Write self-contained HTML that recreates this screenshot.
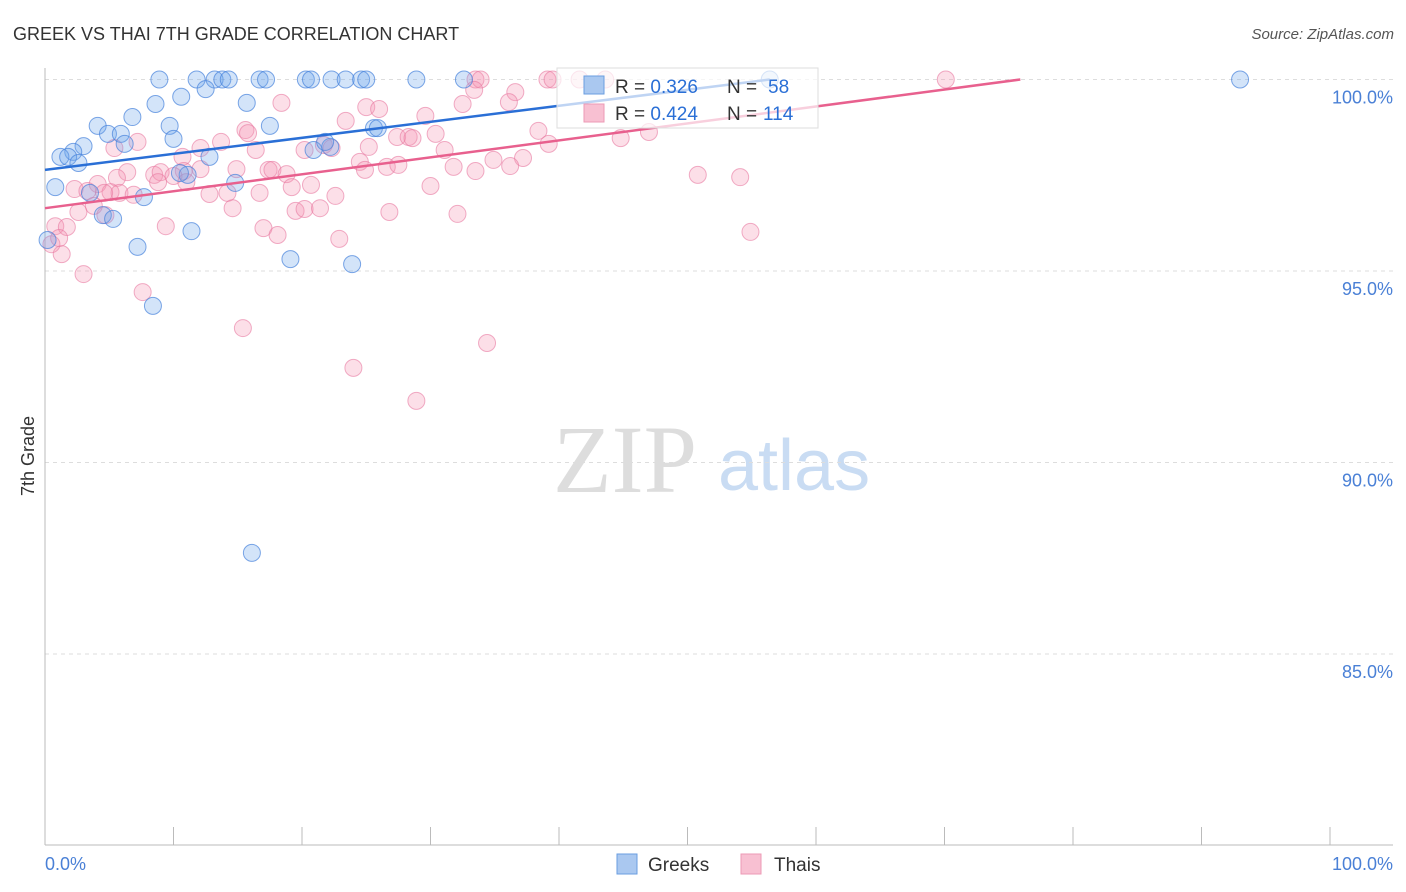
<!DOCTYPE html>
<html><head><meta charset="utf-8"><style>
body{margin:0;background:#fff;font-family:"Liberation Sans",sans-serif}
</style></head><body>
<svg id="chart" width="1406" height="892" xmlns="http://www.w3.org/2000/svg" style="display:block">
<text x="13" y="40" font-size="18" fill="#333">GREEK VS THAI 7TH GRADE CORRELATION CHART</text>
<text x="1394" y="39" font-size="15" fill="#555" text-anchor="end" font-style="italic">Source: ZipAtlas.com</text>
<g>
<text x="553" y="492" font-family="Liberation Serif,serif" font-size="96" fill="#ddd">ZIP</text>
<text x="718" y="490" font-size="72" fill="#c9dcf3">atlas</text>
</g>
<g id="grid"></g><g id="axes"></g><g id="pts"></g><g id="lines"></g>
<text transform="translate(34,456) rotate(-90)" font-size="18" fill="#333" text-anchor="middle">7th Grade</text>
<g>
<rect x="557" y="68" width="261" height="60" fill="#fff" fill-opacity="0.7" stroke="#ddd"/>
<rect x="584" y="76" width="20" height="18" fill="#aac8f0" stroke="#6a9ee0"/>
<rect x="584" y="104" width="20" height="18" fill="#f8c0d2" stroke="#ec9ab5"/>
<text x="615" y="93" font-size="19" fill="#333">R = <tspan fill="#2a6fd6">0.326</tspan><tspan x="727">N = </tspan><tspan fill="#2a6fd6" x="768">58</tspan></text>
<text x="615" y="120" font-size="19" fill="#333">R = <tspan fill="#2a6fd6">0.424</tspan><tspan x="727">N = </tspan><tspan fill="#2a6fd6" x="763">114</tspan></text>
</g>
<g><rect x="617" y="854" width="20" height="20" fill="#aac8f0" stroke="#6a9ee0"/><text x="648" y="871" font-size="19" fill="#333">Greeks</text></g>
<g><rect x="741" y="854" width="20" height="20" fill="#f8c0d2" stroke="#ec9ab5"/><text x="774" y="871" font-size="19" fill="#333">Thais</text></g>
</svg>
<script>
const yTicks=[100,95,90,85];
const yTickLabels=["100.0%","95.0%","90.0%","85.0%"];
const greekX=[8.9,11.8,13.2,13.8,14.3,16.7,17.2,20.3,20.7,22.3,23.4,24.6,25.0,28.9,32.6,56.4,93.0,12.5,10.6,8.6,15.7,6.8,4.1,9.7,4.9,5.9,10.0,17.5,25.6,25.9,3.0,6.2,22.2,20.9,2.2,1.2,1.8,2.6,12.8,11.1,14.8,0.8,3.5,7.7,4.5,5.3,11.4,7.2,19.1,23.9,8.4,16.1,0.2,21.8,10.5];
const greekY=[100,100,100,100,100,100,100,100,100,100,100,100,100,100,100,100,100,99.75,99.55,99.36,99.39,99.02,98.79,98.79,98.58,98.58,98.45,98.79,98.73,98.73,98.26,98.32,98.24,98.16,98.11,97.98,97.98,97.82,97.98,97.51,97.30,97.19,97.04,96.93,96.46,96.36,96.04,95.63,95.31,95.18,94.09,87.64,95.81,98.37,97.56];
const thaiX=[33.5,33.9,39.1,39.5,41.6,43.6,70.1,33.4,36.6,36.1,32.5,18.4,25.0,26.0,29.6,23.4,38.4,47.0,44.8,15.6,15.8,13.7,12.1,7.2,5.4,30.4,27.4,28.3,28.6,25.2,20.2,21.7,22.3,10.7,16.4,31.1,39.2,37.2,34.9,24.5,26.6,27.5,31.8,33.5,36.2,10.8,12.1,14.9,17.4,17.7,18.8,24.9,8.5,9.0,10.0,8.8,6.4,5.6,4.1,2.3,3.3,5.1,5.8,6.9,4.6,12.8,14.2,16.7,19.2,20.7,22.6,30.0,50.8,54.1,3.8,2.6,4.7,9.4,19.5,20.2,21.4,26.8,32.1,17.0,18.1,22.9,54.9,0.8,1.7,1.3,3.0,7.6,15.4,34.4,24.0,28.9,14.6,11.0,0.5,1.1];
const thaiY=[100,100,100,100,100,100,100,99.73,99.67,99.41,99.36,99.39,99.28,99.23,99.05,98.92,98.66,98.63,98.47,98.68,98.60,98.37,98.21,98.37,98.21,98.58,98.50,98.50,98.47,98.24,98.16,98.29,98.21,97.98,98.16,98.16,98.32,97.95,97.90,97.85,97.72,97.77,97.72,97.61,97.74,97.61,97.66,97.66,97.64,97.64,97.53,97.64,97.51,97.58,97.48,97.32,97.58,97.43,97.27,97.14,97.09,97.06,97.04,96.99,97.04,97.01,97.04,97.04,97.19,97.25,96.96,97.22,97.51,97.45,96.70,96.54,96.46,96.17,96.57,96.62,96.64,96.54,96.49,96.12,95.94,95.84,96.02,96.17,96.15,95.44,94.92,94.45,93.51,93.12,92.47,91.61,96.64,97.32,95.70,95.86];
const greekTrend=[[0,97.64],[56.4,100]];
const thaiTrend=[[0,96.64],[75.9,100]];
const NS="http://www.w3.org/2000/svg";
const sx=v=>45+v*12.85, sy=v=>79.5+(100-v)*38.3;
function mk(t,a,p){const e=document.createElementNS(NS,t);for(const k in a)e.setAttribute(k,a[k]);document.getElementById(p).appendChild(e);return e;}
yTicks.forEach((t,i)=>{
 const l=mk('line',{x1:45,x2:1393,y1:sy(t),y2:sy(t),stroke:'#ddd','stroke-dasharray':'4,4'},'grid');
 
 
 const tx=mk('text',{x:1393,y:sy(t)+24,'font-size':18,fill:'#4a80d6','text-anchor':'end'},'grid');tx.textContent=yTickLabels[i];
 
 
});
mk('line',{x1:45,x2:45,y1:68,y2:845,stroke:'#bbb'},'axes');
mk('line',{x1:45,x2:1393,y1:845,y2:845,stroke:'#bbb'},'axes');
for(let i=0;i<=10;i++){const t=mk('line',{x1:sx(i*10),x2:sx(i*10),y1:827,y2:845,stroke:'#bbb'},'axes');
 
 }
const x0=mk('text',{x:45,y:870,'font-size':18,fill:'#4a80d6'},'axes');x0.textContent='0.0%';


const x1=mk('text',{x:1393,y:870,'font-size':18,fill:'#4a80d6','text-anchor':'end'},'axes');x1.textContent='100.0%';


thaiX.forEach((v,i)=>{const c=mk('circle',{cx:sx(v),cy:sy(thaiY[i]),r:8.5,fill:'rgba(244,150,180,0.3)',stroke:'rgba(232,120,160,0.6)'},'pts');
 
 });
greekX.forEach((v,i)=>{const c=mk('circle',{cx:sx(v),cy:sy(greekY[i]),r:8.5,fill:'rgba(110,165,235,0.3)',stroke:'rgba(70,130,220,0.7)'},'pts');
 
 });
const gl=mk('line',{x1:sx(greekTrend[0][0]),y1:sy(greekTrend[0][1]),x2:sx(greekTrend[1][0]),y2:sy(greekTrend[1][1]),stroke:'#2a6fd6','stroke-width':2.5},'lines');


const tl=mk('line',{x1:sx(thaiTrend[0][0]),y1:sy(thaiTrend[0][1]),x2:sx(thaiTrend[1][0]),y2:sy(thaiTrend[1][1]),stroke:'#e8608e','stroke-width':2.5},'lines');


</script>
</body></html>
